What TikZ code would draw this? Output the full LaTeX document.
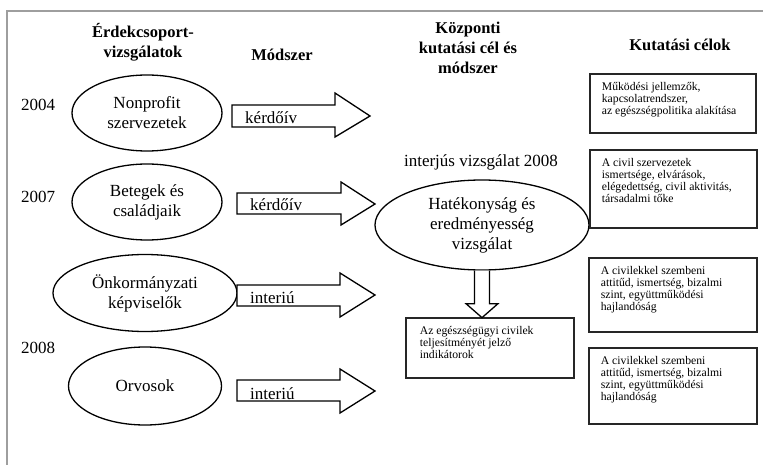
\documentclass[tikz,border=0pt]{standalone}
\usepackage{fontspec}
\setmainfont{Liberation Serif}
\usetikzlibrary{shapes.geometric,calc}
\begin{document}
\begin{tikzpicture}[x=1pt,y=-1pt,
  big/.style={font=\fontsize{17}{20}\selectfont, align=center, inner sep=0pt},
  hdr/.style={font=\bfseries\fontsize{16.5}{20}\selectfont, align=center, inner sep=0pt},
  oval/.style={draw=black, line width=1.3pt, ellipse, inner sep=0pt,
    font=\fontsize{17}{20}\selectfont, align=center},
  cbox/.style={draw=black!85, line width=1.7pt, rectangle, anchor=north west,
    inner xsep=12pt, inner ysep=9pt, font=\fontsize{11.7}{12}\selectfont},
  blk/.style={draw=black, line width=1.3pt, line join=miter, fill=white},
  frame/.style={draw=black!38, line width=2pt}
]
\useasboundingbox (0,0) rectangle (763,465);
\draw[frame] (7,465) -- (7,11) -- (763,11);

% headers
\node[hdr] (h1) at (143,42) {Érdekcsoport-\\vizsgálatok};
\node[hdr] (h2) at (282,55) {Módszer};
\node[hdr] (h3) at (468,48) {Központi\\kutatási cél és\\módszer};
\node[hdr] (h4) at (680,45) {Kutatási célok};

% years
\node[big] (y1) at (38,105) {2004};
\node[big] (y2) at (38,197) {2007};
\node[big] (y3) at (38,348) {2008};

% ellipses
\node[oval, minimum width=150pt, minimum height=76pt] (e1) at (147,113) {Nonprofit\\szervezetek};
\node[oval, minimum width=150pt, minimum height=76pt] (e2) at (147,202) {Betegek és\\családjaik};
\node[oval, minimum width=184pt, minimum height=77pt] (e3) at (145,293) {Önkormányzati\\képviselők};
\node[oval, minimum width=153pt, minimum height=78pt] (e4) at (145,386) {Orvosok};

% block arrows
\draw[blk] (232,105) -- (335,105) -- (335,93) -- (370,116) -- (335,137) -- (335,127) -- (232,127) -- cycle;
\draw[blk] (237,193) -- (341,193) -- (341,182) -- (375,204) -- (341,225) -- (341,214) -- (237,214) -- cycle;
\draw[blk] (237,285) -- (340,285) -- (340,273) -- (375,295) -- (340,317) -- (340,306) -- (237,306) -- cycle;
\draw[blk] (237,380) -- (340,380) -- (340,369) -- (375,391) -- (340,413) -- (340,401) -- (237,401) -- cycle;
\node[big, anchor=base west] (m1) at (245,124) {kérdőív};
\node[big, anchor=base west] (m2) at (250,211) {kérdőív};
\node[big, anchor=base west] (m3) at (250,303) {interiú};
\node[big, anchor=base west] (m4) at (250,399) {interiú};

% central
\node[big] (cl) at (481,162) {interjús vizsgálat 2008};
\node[oval, minimum width=214pt, minimum height=90pt] (ec) at (482,225) {Hatékonyság és\\eredményesség\\vizsgálat};

\node[cbox, inner xsep=14pt] (b5) at (405,317) {\parbox[c][42pt][t]{140pt}{\raggedright Az egészségügyi civilek\\teljesítményét jelző\\indikátorok}};

\draw[blk] ($(ec.south)+(-7.5,0)$) -- ($(ec.south)+(-7.5,33)$) -- ($(ec.south)+(-16,33)$)
  -- ($(ec.south)+(0,47)$) -- ($(ec.south)+(16,33)$) -- ($(ec.south)+(7.5,33)$) -- ($(ec.south)+(7.5,0)$);

% goal boxes
\node[cbox] (g1) at (589,73) {\parbox[c][41pt][t]{142pt}{\raggedright Működési jellemzők,\\kapcsolatrendszer,\\az egészségpolitika alakítása}};
\node[cbox] (g2) at (589,149) {\parbox[c][60pt][t]{143pt}{\raggedright A civil szervezetek\\ismertsége, elvárások,\\elégedettség, civil aktivitás,\\társadalmi tőke}};
\node[cbox] (g3) at (588,257) {\parbox[c][56pt][t]{144pt}{\raggedright A civilekkel szembeni\\attitűd, ismertség, bizalmi\\szint, együttműködési\\hajlandóság}};
\node[cbox] (g4) at (588,347) {\parbox[c][58pt][t]{144pt}{\raggedright A civilekkel szembeni\\attitűd, ismertség, bizalmi\\szint, együttműködési\\hajlandóság}};
\end{tikzpicture}
\end{document}
